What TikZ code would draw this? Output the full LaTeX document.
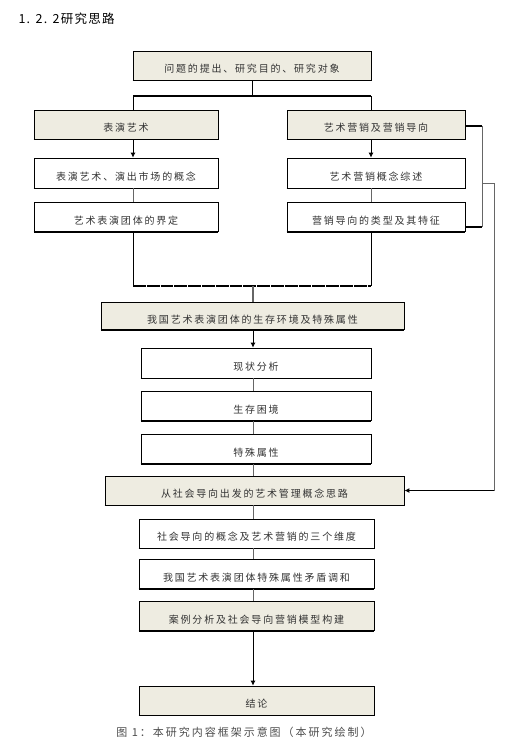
\documentclass[tikz,border=0pt]{standalone}
\usepackage{fontspec}
\newfontfamily\cjk[LetterSpace=18]{Noto Sans CJK SC}
\newfontfamily\cjktit[LetterSpace=10]{Noto Sans CJK SC}
\usetikzlibrary{positioning,arrows.meta}
\definecolor{beige}{HTML}{EEECE1}

\begin{document}
\begin{tikzpicture}[
  x=1pt, y=-1pt,
  caja/.style={draw, line width=0.8pt, fill=white, minimum height=29pt, inner sep=0pt,
    text height=14.5pt, text depth=0pt, text=black!80, font=\cjk\fontsize{10}{12}\selectfont,
    append after command={(\tikzlastnode.south west) edge[line width=1.6pt] (\tikzlastnode.south east)}},
  tono/.style={caja, fill=beige},
  flecha/.style={-{Latex[length=5pt,width=5pt]}, line width=0.8pt},
  linea/.style={line width=0.8pt, black!60},
  grueso/.style={line width=1.8pt},
  node distance=14pt
]
\useasboundingbox (0,0) rectangle (514,755);

\node[anchor=west, font=\cjktit\fontsize{12.5}{14}\selectfont] (tit) at (15,19) {1. 2. 2研究思路};

% Parte 1: planteamiento
\node[tono, minimum width=238pt] (wenti) at (252,65.5) {问题的提出、研究目的、研究对象};
\node[tono, minimum width=184pt] (biaoyan) at (126,124.5) {表演艺术};
\node[tono, minimum width=178pt] (yingxiao) at (376,124.5) {艺术营销及营销导向};
\node[caja, minimum width=184pt, minimum height=30pt] (gainian) at (126,173) {表演艺术、演出市场的概念};
\node[caja, minimum width=184pt, below=14pt of gainian] (jieding) {艺术表演团体的界定};
\node[caja, minimum width=178pt, minimum height=30pt] (zongshu) at (376,173) {艺术营销概念综述};
\node[caja, minimum width=178pt, below=14pt of zongshu] (leixing) {营销导向的类型及其特征};

% Parte 2: entorno
\node[tono, minimum width=303pt, minimum height=27pt] (huanjing) at (252.5,316) {我国艺术表演团体的生存环境及特殊属性};
\node[caja, minimum width=230pt, minimum height=30pt] (xianzhuang) at (256,363) {现状分析};
\node[caja, minimum width=230pt, below=13pt of xianzhuang] (kunjing) {生存困境};
\node[caja, minimum width=230pt, below=13pt of kunjing] (shuxing) {特殊属性};

% Parte 3: orientacion social
\node[tono, minimum width=299pt] (silu) at (254.5,490.5) {从社会导向出发的艺术管理概念思路};
\node[caja, minimum width=235pt] (weidu) at (256.5,533.5) {社会导向的概念及艺术营销的三个维度};
\node[caja, minimum width=235pt, below=11pt of weidu] (tiaohe) {我国艺术表演团体特殊属性矛盾调和};
\node[tono, minimum width=235pt, below=12pt of tiaohe] (anli) {案例分析及社会导向营销模型构建};
\node[tono, minimum width=235pt] (jielun) at (256.5,700.5) {结论};

\node[font=\cjk\fontsize{11}{13}\selectfont, text=black!70] (pie) at (244,732) {图 1：本研究内容框架示意图（本研究绘制）};

% Conexiones
\coordinate (bi) at (133,96);
\coordinate (bd) at (371,96);
\coordinate (ui) at (133,286);
\coordinate (ud) at (371,286);
\coordinate (eje) at (253,0);
\draw[line width=0.8pt] (wenti.south) -- (wenti.south |- bi);
\draw[grueso] (bi) -- (bd);
\draw[line width=0.8pt] (bi) -- (bi |- biaoyan.north);
\draw[line width=0.8pt] (bd) -- (bd |- yingxiao.north);
\draw[flecha] (bi |- biaoyan.south) -- (bi |- gainian.north);
\draw[flecha] (bd |- yingxiao.south) -- (bd |- zongshu.north);
\draw[linea] (bi |- gainian.south) -- (bi |- jieding.north);
\draw[linea] (bd |- zongshu.south) -- (bd |- leixing.north);
\draw[line width=0.8pt] (bi |- jieding.south) -- (ui);
\draw[line width=0.8pt] (bd |- leixing.south) -- (ud);
\draw[line width=1.4pt, dash pattern=on 12.8pt off 1pt] (ui) -- (ud);
\draw[linea, line width=1.2pt] (eje |- ui) -- (eje |- huanjing.north);
\draw[flecha] (eje |- huanjing.south) -- (eje |- xianzhuang.north);
\draw[linea] (eje |- xianzhuang.south) -- (eje |- kunjing.north);
\draw[linea] (eje |- kunjing.south) -- (eje |- shuxing.north);
\draw[linea] (eje |- shuxing.south) -- (eje |- silu.north);
\draw[linea] (eje |- silu.south) -- (eje |- weidu.north);
\draw[linea] (eje |- weidu.south) -- (eje |- tiaohe.north);
\draw[linea] (eje |- tiaohe.south) -- (eje |- anli.north);
\draw[flecha] (eje |- anli.south) -- (eje |- jielun.north);

% Corchete derecho
\coordinate (ca) at (482,126);
\coordinate (cb) at (482,227);
\coordinate (cm) at (482,183);
\coordinate (cr) at (494,183);
\draw[grueso, line width=1.3pt] (yingxiao.east |- ca) -- (ca);
\draw[grueso, line width=1.3pt] (leixing.east |- cb) -- (cb);
\draw[linea] (ca) -- (cb);
\draw[linea] (cm) -- (cr) -- (cr |- silu.east);
\draw[flecha, line width=1.2pt] (cr |- silu.east) -- (silu.east);
\end{tikzpicture}
\end{document}
